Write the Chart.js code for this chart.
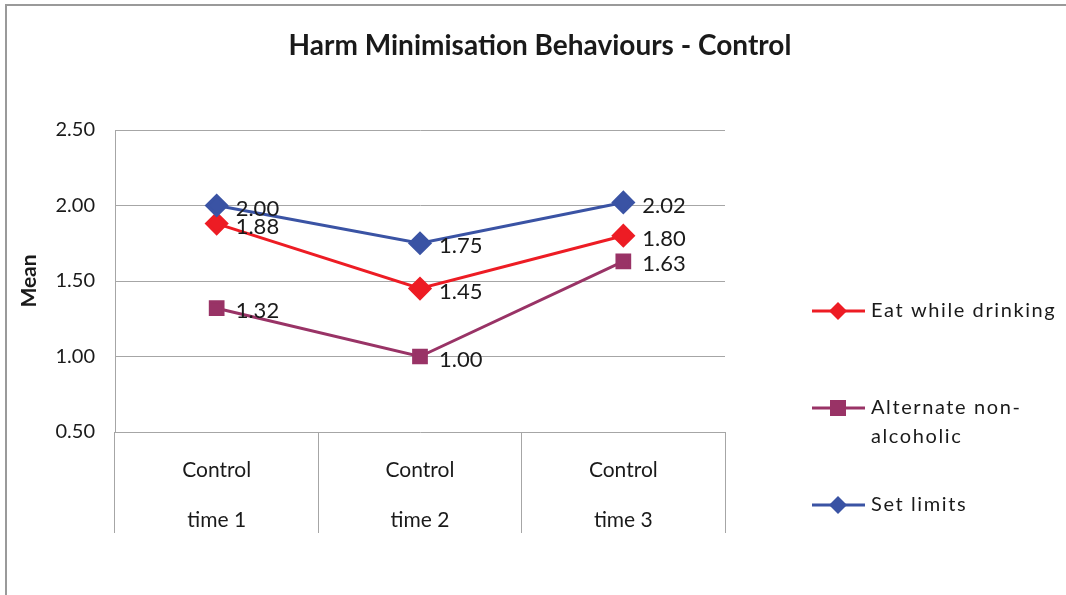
<!DOCTYPE html>
<html lang="en">
<head>
  <meta charset="UTF-8" />
  <title>Harm Minimisation Behaviours - Control</title>
  <script src="https://cdn.jsdelivr.net/npm/chart.js"></script>
  <style>
    html, body { margin: 0; padding: 0; background: #fff; }
    .chart-box { position: relative; width: 1066px; height: 595px; }
  </style>
</head>
<body>
  <div class="chart-box"><canvas id="chartHarm"></canvas></div>

  <script>
    // dados
    const categorias = [["Control", "time 1"], ["Control", "time 2"], ["Control", "time 3"]];
    const eatWhileDrinking = [1.88, 1.45, 1.80];
    const alternateNonAlcoholic = [1.32, 1.00, 1.63];
    const setLimits = [2.00, 1.75, 2.02];
    const yMin = 0.5;
    const yMax = 2.5;
    const yStep = 0.5;

    const fonte = "Lato, 'Open Sans', sans-serif";
    const corGrade = '#a6a6a6';
    const tituloTexto = 'Harm Minimisation Behaviours - Control';

    // moldura cinza (topo e esquerda) e título centralizado na página
    const moldura = {
      id: 'moldura',
      beforeDraw(chart) {
        const ctx = chart.ctx;
        ctx.save();
        ctx.fillStyle = '#fff';
        ctx.fillRect(0, 0, chart.width, chart.height);
        ctx.strokeStyle = '#9a9a9a';
        ctx.lineWidth = 2;
        ctx.beginPath();
        ctx.moveTo(6, chart.height);
        ctx.lineTo(6, 5);
        ctx.lineTo(chart.width, 5);
        ctx.stroke();
        ctx.font = 'bold 28px ' + fonte;
        ctx.fillStyle = '#1a1a1a';
        ctx.textAlign = 'center';
        ctx.textBaseline = 'middle';
        ctx.fillText(tituloTexto, 540, 46);
        ctx.restore();
      }
    };

    // rótulos de valor à direita de cada ponto
    const rotulos = {
      id: 'rotulos',
      afterDatasetsDraw(chart) {
        const ctx = chart.ctx;
        ctx.save();
        ctx.font = '22px ' + fonte;
        ctx.fillStyle = '#1a1a1a';
        ctx.textBaseline = 'middle';
        chart.data.datasets.forEach((ds, i) => {
          chart.getDatasetMeta(i).data.forEach((pt, j) => {
            ctx.fillText(ds.data[j].toFixed(2), pt.x + 19, pt.y + 3);
          });
        });
        ctx.restore();
      }
    };

    function desenhaMarcador(ctx, estilo, x, y, r, cor) {
      ctx.fillStyle = cor;
      ctx.beginPath();
      if (estilo === 'rect') {
        ctx.rect(x - r, y - r, 2 * r, 2 * r);
      } else {
        ctx.moveTo(x, y - r);
        ctx.lineTo(x + r, y);
        ctx.lineTo(x, y + r);
        ctx.lineTo(x - r, y);
        ctx.closePath();
      }
      ctx.fill();
    }

    // legenda à direita: linha + marcador + texto
    const legendaDireita = {
      id: 'legendaDireita',
      afterDraw(chart) {
        const ctx = chart.ctx;
        const itens = [
          { ds: 0, y: 311, linhas: ["Eat while drinking"] },
          { ds: 1, y: 408, linhas: ["Alternate non-", "alcoholic"] },
          { ds: 2, y: 505, linhas: ["Set limits"] }
        ];
        ctx.save();
        ctx.font = '20px ' + fonte;
        ctx.textBaseline = 'middle';
        ctx.letterSpacing = '1.6px';
        itens.forEach(it => {
          const ds = chart.data.datasets[it.ds];
          ctx.strokeStyle = ds.borderColor;
          ctx.lineWidth = 3;
          ctx.beginPath();
          ctx.moveTo(812, it.y);
          ctx.lineTo(865, it.y);
          ctx.stroke();
          desenhaMarcador(ctx, ds.pointStyle, 838, it.y, ds.pointStyle === 'rect' ? 8 : 9, ds.backgroundColor);
          ctx.fillStyle = '#1a1a1a';
          it.linhas.forEach((t, k) => ctx.fillText(t, 871, it.y + k * 29));
        });
        ctx.restore();
      }
    };

    new Chart(document.getElementById('chartHarm'), {
      type: 'line',
      data: {
        labels: categorias,
        datasets: [{
          label: 'Eat while drinking',
          data: eatWhileDrinking,
          borderColor: '#ed1c24',
          backgroundColor: '#ed1c24',
          borderWidth: 3,
          pointStyle: 'rectRot',
          pointRadius: 10,
          pointHoverRadius: 10,
          order: 2
        }, {
          label: 'Alternate non-alcoholic',
          data: alternateNonAlcoholic,
          borderColor: '#993366',
          backgroundColor: '#993366',
          borderWidth: 3,
          pointStyle: 'rect',
          pointRadius: 9,
          pointHoverRadius: 9,
          order: 1
        }, {
          label: 'Set limits',
          data: setLimits,
          borderColor: '#3a53a4',
          backgroundColor: '#3a53a4',
          borderWidth: 3,
          pointStyle: 'rectRot',
          pointRadius: 10,
          pointHoverRadius: 10,
          order: 0
        }]
      },
      options: {
        responsive: true,
        maintainAspectRatio: false,
        animation: false,
        layout: { padding: { left: 10, right: 341, top: 130, bottom: 0 } },
        plugins: {
          legend: { display: false },
          tooltip: { enabled: false },
          title: { display: false }
        },
        scales: {
          x: {
            offset: true,
            border: { display: false },
            grid: {
              offset: true,
              drawOnChartArea: false,
              drawTicks: true,
              tickLength: 101,
              color: corGrade,
              lineWidth: 1
            },
            ticks: {
              color: '#1a1a1a',
              padding: -88,
              maxRotation: 0,
              font: { family: fonte, size: 21, lineHeight: 2.4 }
            },
            afterFit(scale) { scale.height = 163; }
          },
          y: {
            min: yMin,
            max: yMax,
            border: { display: true, color: corGrade, width: 1 },
            grid: { color: corGrade, drawTicks: false },
            ticks: {
              stepSize: yStep,
              padding: 20,
              color: '#1a1a1a',
              font: { family: fonte, size: 20 },
              callback: v => v.toFixed(2)
            },
            title: {
              display: true,
              text: 'Mean',
              color: '#1a1a1a',
              font: { family: fonte, size: 21, weight: 'bold' },
              padding: { top: 7, bottom: 0 }
            },
            afterFit(scale) { scale.width = 105; }
          }
        }
      },
      plugins: [moldura, rotulos, legendaDireita]
    });
  </script>
</body>
</html>
